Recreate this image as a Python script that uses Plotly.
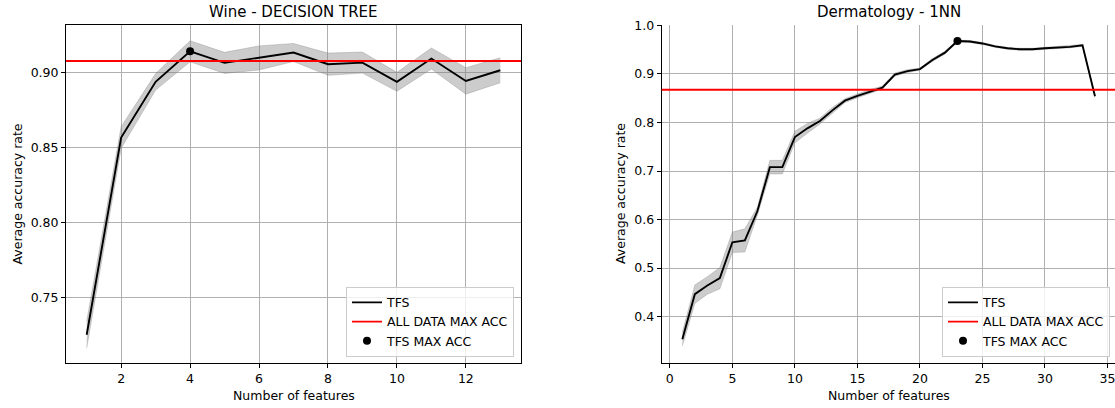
import numpy as np
import plotly.graph_objects as go

# ---------------- data ----------------
wine_features = list(range(1, 14))
wine_mean = [0.7254, 0.8566, 0.8936, 0.9139, 0.9062, 0.9095, 0.9131,
             0.9053, 0.9064, 0.8936, 0.9091, 0.8942, 0.9013]
wine_std = [0.0090, 0.0072, 0.0055, 0.0070, 0.0070, 0.0080, 0.0060,
            0.0074, 0.0070, 0.0063, 0.0070, 0.0088, 0.0083]
wine_all_data_acc = 0.9075

derm_features = list(range(1, 35))
derm_mean = [0.353, 0.446, 0.464, 0.479, 0.553, 0.557, 0.617, 0.708, 0.708,
             0.770, 0.788, 0.803, 0.825, 0.845, 0.855, 0.864, 0.872, 0.899,
             0.906, 0.910, 0.929, 0.944, 0.968, 0.967, 0.963, 0.957, 0.953,
             0.951, 0.951, 0.953, 0.954, 0.956, 0.959, 0.854]
derm_std = [0.014, 0.019, 0.018, 0.022, 0.021, 0.024, 0.008, 0.014, 0.014,
            0.012, 0.010, 0.006, 0.006, 0.004, 0.004, 0.004, 0.003, 0.003,
            0.003, 0.002, 0.003, 0.003, 0.002, 0.002, 0.002, 0.002, 0.002,
            0.002, 0.002, 0.002, 0.002, 0.002, 0.002, 0.002]
derm_all_data_acc = 0.8675

titles = ["Wine - DECISION TREE", "Dermatology - 1NN"]
x_label = "Number of features"
y_label = "Average accuracy rate"

# ---------------- layout geometry ----------------
W, H = 1115, 408
FONT = "DejaVu Sans"
FS = 12.5

def px_x(p):
    return p / W

def px_y(p):  # pixel from top -> paper
    return (H - p) / H

left_dom = [px_x(66), px_x(521)]
right_dom = [px_x(661.7), 1.0]
y_dom = [px_y(363.3), px_y(25.3)]

fig = go.Figure()

BAND = "rgba(128,128,128,0.4)"

def add_panel(xs, mean, std, ref, xa, ya, legend):
    mean = np.array(mean)
    std = np.array(std)
    lo = mean - std
    hi = mean + std
    fig.add_trace(go.Scatter(x=xs, y=lo, mode="lines", line=dict(color=BAND, width=0.8),
                             showlegend=False, hoverinfo="skip", xaxis=xa, yaxis=ya))
    fig.add_trace(go.Scatter(x=xs, y=hi, mode="lines", line=dict(color=BAND, width=0.8),
                             fill="tonexty", fillcolor=BAND,
                             showlegend=False, hoverinfo="skip", xaxis=xa, yaxis=ya))
    fig.add_trace(go.Scatter(x=xs, y=mean, mode="lines", name="TFS",
                             line=dict(color="black", width=1.9),
                             legend=legend, xaxis=xa, yaxis=ya))
    # legend entry for the horizontal reference line (line itself drawn as a shape)
    fig.add_trace(go.Scatter(x=[None], y=[None], mode="lines", name="ALL DATA MAX ACC",
                             line=dict(color="red", width=1.9),
                             legend=legend, xaxis=xa, yaxis=ya))
    i = int(np.argmax(mean))
    fig.add_trace(go.Scatter(x=[xs[i]], y=[mean[i]], mode="markers", name="TFS MAX ACC",
                             marker=dict(color="black", size=8),
                             legend=legend, xaxis=xa, yaxis=ya))
    fig.add_shape(type="line", xref=f"{xa} domain", yref=ya, x0=0, x1=1, y0=ref, y1=ref,
                  line=dict(color="red", width=1.9), layer="above")

add_panel(wine_features, wine_mean, wine_std, wine_all_data_acc, "x", "y", "legend")
add_panel(derm_features, derm_mean, derm_std, derm_all_data_acc, "x2", "y2", "legend2")

axis_common = dict(
    showgrid=True, gridcolor="#b0b0b0", gridwidth=1,
    showline=True, linecolor="black", linewidth=1,
    ticks="outside", ticklen=4, tickwidth=1, tickcolor="black",
    tickfont=dict(family=FONT, size=FS, color="black"),
    zeroline=False, automargin=False, ticklabeloverflow="allow",
)

legend_common = dict(
    bgcolor="rgba(255,255,255,0.8)", bordercolor="#cccccc", borderwidth=1,
    font=dict(family=FONT, size=FS, color="black"),
    xanchor="right", yanchor="bottom", yref="paper", xref="paper",
    tracegroupgap=0, traceorder="normal",
)

fig.update_layout(
    width=W, height=H,
    margin=dict(l=0, r=0, t=0, b=0),
    paper_bgcolor="white", plot_bgcolor="white",
    font=dict(family=FONT, size=FS, color="black"),
    xaxis=dict(domain=left_dom, anchor="y", range=[0.4, 13.6], dtick=2, tick0=0,
               mirror=True, **axis_common),
    yaxis=dict(domain=y_dom, anchor="x", range=[0.7064, 0.9312], dtick=0.05, tick0=0,
               tickformat=".2f", mirror=True, **axis_common),
    xaxis2=dict(domain=right_dom, anchor="y2", range=[-0.65, 35.6], dtick=5, tick0=0,
                mirror=False, **axis_common),
    yaxis2=dict(domain=y_dom, anchor="x2", range=[0.3035, 1.0004], dtick=0.1, tick0=0,
                tickformat=".1f", mirror=True, **axis_common),
    legend=dict(x=px_x(514), y=px_y(356.7), **legend_common),
    legend2=dict(x=px_x(1110), y=px_y(356.7), **legend_common),
    showlegend=True,
)

# titles and axis labels
ann = []
for dom, title in zip([left_dom, [px_x(661.7), px_x(1116)]], titles):
    cx = (dom[0] + dom[1]) / 2
    ann.append(dict(text=title, x=cx, y=px_y(12), xref="paper", yref="paper",
                    xanchor="center", yanchor="middle", showarrow=False,
                    font=dict(family=FONT, size=15, color="black")))
    ann.append(dict(text=x_label, x=cx, y=px_y(395), xref="paper", yref="paper",
                    xanchor="center", yanchor="middle", showarrow=False,
                    font=dict(family=FONT, size=FS, color="black")))
for xp in [16.5, 620]:
    ann.append(dict(text=y_label, x=px_x(xp), y=px_y(194), xref="paper", yref="paper",
                    xanchor="center", yanchor="middle", showarrow=False, textangle=-90,
                    font=dict(family=FONT, size=FS, color="black")))
fig.update_layout(annotations=ann)

fig.write_html(
    "out.html",
    config={"displayModeBar": False},
    post_script="document.body.style.margin='0';document.body.style.overflow='hidden';",
)
